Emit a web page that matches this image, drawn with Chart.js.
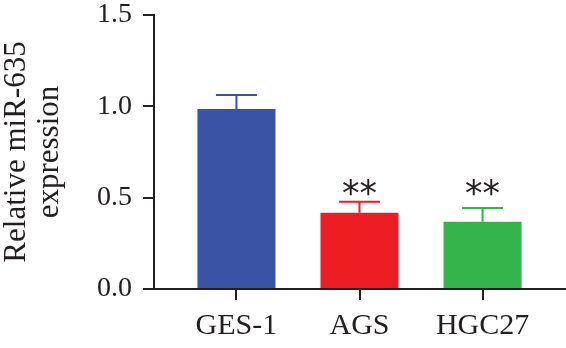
<!DOCTYPE html>
<html>
<head>
<meta charset="utf-8">
<script src="https://cdn.jsdelivr.net/npm/chart.js@4"></script>
<style>
html, body { margin: 0; padding: 0; background: #fff; }
#wrap { width: 566px; height: 348px; }
</style>
</head>
<body>
<div id="wrap"><canvas id="chart"></canvas></div>
<script>
// data
const categories = ["GES-1", "AGS", "HGC27"];
const means = [0.985, 0.418, 0.368];
const errors = [0.077, 0.06, 0.075];
const marks = ["", "**", "**"];
const yTicks = [0, 0.5, 1.0, 1.5];
const barColors = ["#3A53A4", "#ED1D24", "#34B44A"];

const ink = "#231f20";
const serif = '"Liberation Serif", "Times New Roman", serif';

// error bars + significance stars
const errorBars = {
    id: "errorBars",
    afterDatasetsDraw(chart) {
        const { ctx, scales: { x, y } } = chart;
        ctx.save();
        ctx.lineWidth = 2;
        means.forEach((m, i) => {
            const px = x.getPixelForValue(i);
            const y0 = y.getPixelForValue(m);
            const y1 = y.getPixelForValue(m + errors[i]);
            ctx.strokeStyle = barColors[i];
            ctx.beginPath();
            ctx.moveTo(px, y0);
            ctx.lineTo(px, y1);
            ctx.moveTo(px - 20.5, y1);
            ctx.lineTo(px + 20.5, y1);
            ctx.stroke();
        });

        // stars sit at one height, above the highest marked error bar
        const tops = means.map((m, i) => marks[i] ? y.getPixelForValue(m + errors[i]) : Infinity);
        const markY = Math.min(...tops) - 14.5;
        ctx.font = '35px "DejaVu Sans"';
        ctx.fillStyle = ink;
        ctx.textAlign = "center";
        ctx.textBaseline = "alphabetic";
        marks.forEach((s, i) => {
            if (!s) return;
            const mt = ctx.measureText(s);
            const base = markY + (mt.actualBoundingBoxAscent - mt.actualBoundingBoxDescent) / 2;
            ctx.fillText(s, x.getPixelForValue(i), base);
        });
        ctx.restore();
    }
};

new Chart(document.getElementById("chart"), {
    type: "bar",
    data: {
        datasets: [{
            data: means.map((m, i) => ({ x: i, y: m })),
            backgroundColor: barColors,
            borderWidth: 0,
            barPercentage: 0.634,
            categoryPercentage: 1
        }]
    },
    options: {
        responsive: true,
        maintainAspectRatio: false,
        animation: false,
        devicePixelRatio: 1,
        layout: { padding: { left: 0, top: 0, right: 1, bottom: 0 } },
        plugins: { legend: { display: false }, tooltip: { enabled: false } },
        scales: {
            x: {
                type: "linear",
                min: -0.67,
                max: 2.67,
                offset: false,
                afterBuildTicks: s => { s.ticks = categories.map((c, i) => ({ value: i })); },
                afterFit: s => { s.height = 59; },
                ticks: {
                    callback: v => categories[v],
                    color: ink,
                    font: { family: serif, size: 30, lineHeight: 1.2 },
                    padding: 8,
                    autoSkip: false,
                    maxRotation: 0
                },
                grid: { offset: false, drawOnChartArea: false, drawTicks: true, tickLength: 11, color: ink, lineWidth: 2 },
                border: { color: ink, width: 2 }
            },
            y: {
                min: 0,
                max: 1.5,
                afterBuildTicks: s => { s.ticks = yTicks.map(v => ({ value: v })); },
                afterFit: s => { s.width = 154; s.paddingTop = 15; s.paddingBottom = 0; },
                ticks: {
                    callback: v => v.toFixed(1),
                    color: ink,
                    font: { family: serif, size: 28, lineHeight: 1 },
                    padding: 11
                },
                grid: { drawOnChartArea: false, drawTicks: true, tickLength: 11, color: ink, lineWidth: 2 },
                border: { color: ink, width: 2 },
                title: {
                    display: true,
                    text: ["Relative miR-635", "expression"],
                    color: ink,
                    font: { family: serif, size: 31, lineHeight: 1.07 },
                    padding: 0
                }
            }
        }
    },
    plugins: [errorBars]
});
</script>
</body>
</html>
